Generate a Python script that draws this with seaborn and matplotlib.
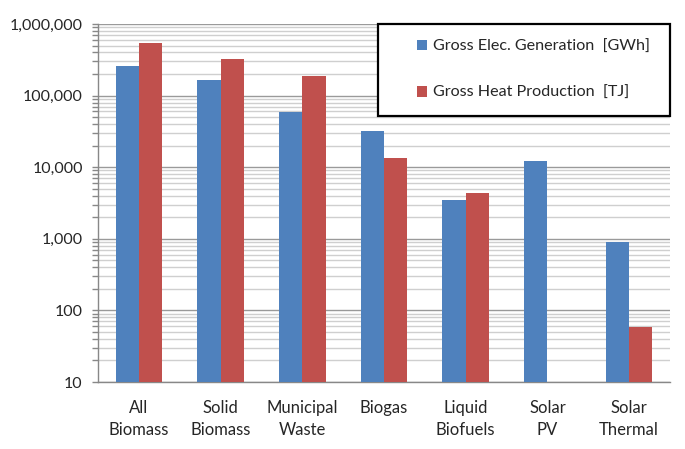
import matplotlib
matplotlib.use("Agg")
import matplotlib.pyplot as plt
import matplotlib.ticker as mticker
from matplotlib.patches import Rectangle
import seaborn as sns
import pandas as pd
import numpy as np

categories = ["All\nBiomass", "Solid\nBiomass", "Municipal\nWaste", "Biogas",
              "Liquid\nBiofuels", "Solar\nPV", "Solar\nThermal"]
elec_gwh = [263000, 167000, 59000, 31700, 3500, 12200, 908]
heat_tj = [546000, 329000, 190000, 13600, 4360, np.nan, 59]
series_names = ["Gross Elec. Generation  [GWh]", "Gross Heat Production  [TJ]"]
colors = ["#4F81BD", "#C0504D"]

df = pd.DataFrame({
    "category": categories * 2,
    "value": elec_gwh + heat_tj,
    "series": [series_names[0]] * len(categories) + [series_names[1]] * len(categories),
})

sns.set_style("white")
plt.rcParams["font.family"] = ["Lato", "DejaVu Sans"]

fig = plt.figure(figsize=(6.85, 4.49), dpi=100)
ax = fig.add_axes([98 / 685, 1 - 382 / 449, 572 / 685, 358 / 449])
ax.set_yscale("log")
sns.barplot(data=df, x="category", y="value", hue="series", palette=colors,
            width=0.57, gap=0, saturation=1, errorbar=None, ax=ax, legend=True,
            linewidth=0, zorder=3)
ax.set_ylim(10, 1e6)
ax.set_xlim(-0.5, len(categories) - 0.5)
ax.set_xlabel("")
ax.set_ylabel("")

ax.yaxis.set_major_locator(mticker.LogLocator(base=10, numticks=10))
ax.yaxis.set_minor_locator(mticker.LogLocator(base=10, subs=np.arange(2, 10), numticks=10))
ax.yaxis.set_major_formatter(mticker.FuncFormatter(lambda v, p: f"{int(round(v)):,}"))
ax.yaxis.set_minor_formatter(mticker.NullFormatter())
ax.grid(True, which="major", axis="y", color="#9a9a9a", linewidth=1.0, zorder=0)
ax.grid(True, which="minor", axis="y", color="#cfcfcf", linewidth=1.0, zorder=0)
ax.set_axisbelow(True)

ax.set_xticks(range(len(categories)))
ax.set_xticklabels(categories, fontsize=12, linespacing=1.45)
ax.set_xticks(np.arange(-0.5, len(categories)), minor=True)
ax.tick_params(axis="x", which="major", length=0, pad=13)
ax.tick_params(axis="x", which="minor", length=5, color="#888888", width=1, direction="out")
ax.tick_params(axis="y", which="both", length=4, color="#888888", width=1, direction="out",
               left=True)
ax.tick_params(axis="y", which="major", labelsize=11.5, pad=7)

for side in ["top", "right"]:
    ax.spines[side].set_visible(False)
for side in ["left", "bottom"]:
    ax.spines[side].set_color("#888888")
    ax.spines[side].set_linewidth(1)

handles, labels = ax.get_legend_handles_labels()
ax.get_legend().remove()

box = Rectangle((378 / 685, 1 - 116 / 449), 292 / 685, 92 / 449, transform=fig.transFigure,
                facecolor="white", edgecolor="black", linewidth=1.6, zorder=4)
fig.patches.append(box)
leg = fig.legend(handles, labels, loc="center left",
                 bbox_to_anchor=(409 / 685, 1 - 70 / 449), frameon=False,
                 fontsize=11.6, handlelength=0.6, handleheight=0.6, handletextpad=0.4,
                 labelspacing=2.0, borderpad=0)
leg.set_zorder(5)

fig.savefig("out.png", dpi=100)
